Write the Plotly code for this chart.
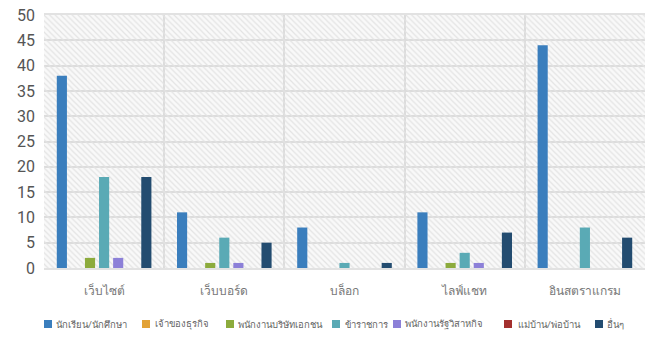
import plotly.graph_objects as go

categories = ["เว็บไซต์", "เว็บบอร์ด", "บล็อก", "ไลฟ์แชท", "อินสตราแกรม"]
series_names = ["นักเรียน/นักศึกษา", "เจ้าของธุรกิจ", "พนักงานบริษัทเอกชน", "ข้าราชการ",
                "พนักงานรัฐวิสาหกิจ", "แม่บ้าน/พ่อบ้าน", "อื่นๆ"]
students = [38, 11, 8, 11, 44]
owners = [0, 0, 0, 0, 0]
private_emp = [2, 1, 0, 1, 0]
civil = [18, 6, 1, 3, 8]
state_emp = [2, 1, 0, 1, 0]
homemakers = [0, 0, 0, 0, 0]
others = [18, 5, 1, 7, 6]
series_values = [students, owners, private_emp, civil, state_emp, homemakers, others]
colors = ["#3a7ebd", "#e2a236", "#8cab3c", "#5aaab5", "#8c80d8", "#a3302e", "#234c70"]
y_ticks = [0, 5, 10, 15, 20, 25, 30, 35, 40, 45, 50]

# legend layout (pixel positions of swatches and labels)
legend_swatch_px = [44, 142, 226, 332, 393, 504, 595]
legend_text_px = [54, 153, 236, 343, 403, 516, 605]

W, H = 660, 338
L, R, T, B = 44, 15, 15, 70
pw, ph = W - L - R, H - T - B

def px_x(px):
    return (px - L) / pw

def px_y(py):
    return (H - B - py) / ph

fig = go.Figure()

# hatched background panel on the underlying axis
fig.add_trace(go.Bar(
    x=[len(categories) / 2], y=[max(y_ticks)], width=[len(categories)],
    xaxis="x", yaxis="y", showlegend=False, hoverinfo="skip",
    marker=dict(color="rgba(0,0,0,0)", line=dict(width=0),
                pattern=dict(shape="\\", fgcolor="#e3e3e3", bgcolor="rgba(255,255,255,0)",
                             size=4, solidity=0.3, fgopacity=1)),
))

for name, vals, col in zip(series_names, series_values, colors):
    fig.add_trace(go.Bar(
        x=categories, y=vals, name=name, xaxis="x2", yaxis="y",
        marker=dict(color=col, line=dict(width=0)), showlegend=False,
    ))

# legend drawn as swatches + text
shapes = []
annotations = []
legend_cy = 324
for name, col, sx, tx in zip(series_names, colors, legend_swatch_px, legend_text_px):
    shapes.append(dict(type="rect", xref="paper", yref="paper",
                       x0=px_x(sx), x1=px_x(sx + 8),
                       y0=px_y(legend_cy + 4), y1=px_y(legend_cy - 4),
                       fillcolor=col, line=dict(width=0)))
    annotations.append(dict(text=name, xref="paper", yref="paper",
                            x=px_x(tx), y=px_y(legend_cy), xanchor="left", yanchor="middle",
                            showarrow=False, font=dict(size=9.5, color="#666")))

fig.update_layout(
    width=W, height=H,
    margin=dict(l=L, r=R, t=T, b=B, autoexpand=False),
    paper_bgcolor="white", plot_bgcolor="#f9f9f9",
    barmode="group", bargap=0.18, bargroupgap=0.28,
    font=dict(family="Roboto, 'Noto Sans', 'DejaVu Sans', sans-serif", color="#555"),
    xaxis=dict(range=[0, len(categories)], showticklabels=False, ticks="",
               showgrid=True, gridcolor="#dcdcdc", gridwidth=1.5, dtick=1, tick0=0,
               zeroline=False, showline=True, linecolor="#e2e2e2", linewidth=1.5, mirror=True),
    xaxis2=dict(overlaying="x", type="category", showgrid=False, ticks="",
                tickfont=dict(size=12, color="#777"), zeroline=False, showline=False,
                side="bottom", ticklabelstandoff=14),
    yaxis=dict(range=[0, 50], tickvals=y_ticks, ticks="", showgrid=True,
               gridcolor="#dcdcdc", gridwidth=1.5, zeroline=False,
               tickfont=dict(size=16, color="#555"), ticklabelstandoff=8),
    shapes=shapes, annotations=annotations,
    showlegend=False,
)

fig.write_html("out.html")
